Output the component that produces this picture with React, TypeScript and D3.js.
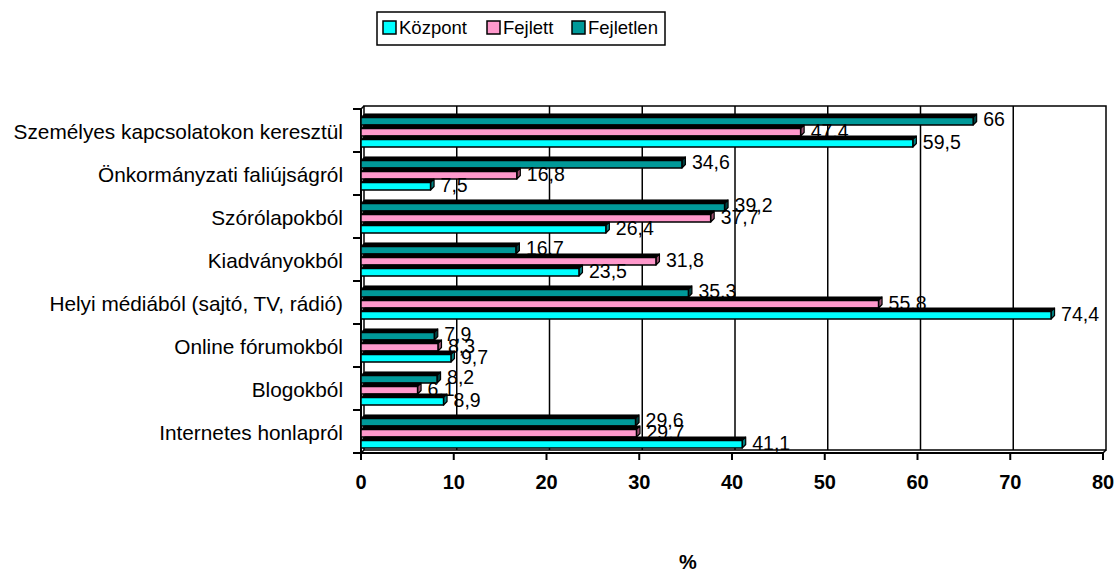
import { useEffect, useRef } from 'react'
import * as d3 from 'd3'

// Categories, top to bottom
const categories = [
  'Személyes kapcsolatokon keresztül',
  'Önkormányzati faliújságról',
  'Szórólapokból',
  'Kiadványokból',
  'Helyi médiából (sajtó, TV, rádió)',
  'Online fórumokból',
  'Blogokból',
  'Internetes honlapról',
]

const seriesNames = ['Központ', 'Fejlett', 'Fejletlen']
const seriesColors = ['#00FFFF', '#FF99CC', '#009999']
const seriesSide = ['#008080', '#99506F', '#004040']

const kozpont = [59.5, 7.5, 26.4, 23.5, 74.4, 9.7, 8.9, 41.1]
const fejlett = [47.4, 16.8, 37.7, 31.8, 55.8, 8.3, 6.1, 29.7]
const fejletlen = [66, 34.6, 39.2, 16.7, 35.3, 7.9, 8.2, 29.6]
const seriesValues = [kozpont, fejlett, fejletlen]

const xTicks = [0, 10, 20, 30, 40, 50, 60, 70, 80]

const fmt = (v: number) => String(v).replace('.', ',')

export default function App() {
  const svgRef = useRef<SVGSVGElement>(null)
  const width = 1119
  const height = 574

  useEffect(() => {
    if (!svgRef.current) return
    const svg = d3.select(svgRef.current)
    svg.selectAll('*').remove()

    const font = '"Liberation Sans", Arial, sans-serif'
    const left = 361
    const right = 1103
    const top = 109
    const bottom = 453
    const depth = 3.5

    const x = d3.scaleLinear().domain([0, 80]).range([left, right])
    const y = d3.scaleBand<string>().domain(categories).range([top, bottom])
    // slots inside a band, top to bottom: Fejletlen, Fejlett, Központ
    const inner = d3.scaleBand<number>()
      .domain([2, 1, 0])
      .range([0, y.bandwidth()])
      .paddingOuter(0.45)
      .paddingInner(0)

    // back wall
    const wall = svg.append('g')
    wall.append('rect')
      .attr('x', left + 3).attr('y', top - 3)
      .attr('width', right - left).attr('height', bottom - top)
      .attr('fill', 'white').attr('stroke', 'black').attr('stroke-width', 1.5)
    wall.selectAll('line.grid')
      .data(xTicks.slice(1, -1))
      .join('line')
      .attr('x1', d => x(d) + 3).attr('x2', d => x(d) + 3)
      .attr('y1', top - 3).attr('y2', bottom - 3)
      .attr('stroke', 'black').attr('stroke-width', 1.5)
    wall.append('path')
      .attr('d', `M${left},${bottom}L${left + 3},${bottom - 3}M${left},${top}L${left + 3},${top - 3}M${right},${bottom}L${right + 3},${bottom - 3}`)
      .attr('stroke', 'black').attr('stroke-width', 1.5)

    // axes
    const axes = svg.append('g').attr('stroke', 'black').attr('stroke-width', 2)
    axes.append('line').attr('x1', left).attr('x2', left).attr('y1', top).attr('y2', bottom)
    axes.append('line').attr('x1', left).attr('x2', right).attr('y1', bottom).attr('y2', bottom)
    const catEdges = categories.map(c => y(c) as number).concat([bottom])
    axes.selectAll('line.ytick')
      .data(catEdges)
      .join('line')
      .attr('x1', left - 8).attr('x2', left)
      .attr('y1', d => d).attr('y2', d => d)
    axes.selectAll('line.xtick')
      .data(xTicks)
      .join('line')
      .attr('x1', d => x(d)).attr('x2', d => x(d))
      .attr('y1', bottom).attr('y2', bottom + 7)

    svg.append('g')
      .selectAll('text')
      .data(xTicks)
      .join('text')
      .attr('x', d => x(d))
      .attr('y', 489)
      .attr('text-anchor', 'middle')
      .style('font', `bold 20px ${font}`)
      .text(d => d)

    svg.append('g')
      .selectAll('text')
      .data(categories)
      .join('text')
      .attr('x', 343)
      .attr('y', d => (y(d) as number) + y.bandwidth() / 2 + 8)
      .attr('text-anchor', 'end')
      .style('font', `20.8px ${font}`)
      .text(d => d)

    svg.append('text')
      .attr('x', 688).attr('y', 569)
      .attr('text-anchor', 'middle')
      .style('font', `bold 20px ${font}`)
      .text('%')

    // bars: categories top to bottom, inside each Fejletlen → Fejlett → Központ
    const bars = svg.append('g')
    const p = inner.bandwidth()
    categories.forEach((cat, ci) => {
      for (const s of [2, 1, 0]) {
        const v = seriesValues[s][ci]
        const s0 = (y(cat) as number) + (inner(s) as number)
        const x0 = left
        const x1 = x(v)
        const g = bars.append('g').attr('stroke', 'black').attr('stroke-linejoin', 'round')
        // top face
        g.append('path')
          .attr('d', `M${x0},${s0 + depth}L${x0 + depth},${s0}L${x1 + depth},${s0}L${x1},${s0 + depth}Z`)
          .attr('fill', '#000').attr('stroke-width', 1)
        // end face
        g.append('path')
          .attr('d', `M${x1},${s0 + depth}L${x1 + depth},${s0}L${x1 + depth},${s0 + p - depth}L${x1},${s0 + p}Z`)
          .attr('fill', seriesSide[s]).attr('stroke-width', 1.2)
        // front face
        g.append('rect')
          .attr('x', x0).attr('y', s0 + depth)
          .attr('width', x1 - x0).attr('height', p - depth)
          .attr('fill', seriesColors[s]).attr('stroke-width', 1.5)
        bars.append('text')
          .attr('x', x1 + 10)
          .attr('y', s0 + p / 2 + 7)
          .style('font', `19.5px ${font}`)
          .text(fmt(v))
      }
    })

    // legend
    const legend = svg.append('g')
    legend.append('rect')
      .attr('x', 377).attr('y', 12).attr('width', 288).attr('height', 33)
      .attr('fill', 'white').attr('stroke', 'black').attr('stroke-width', 1.5)
    const legendX = [383, 487, 572]
    seriesNames.forEach((name, i) => {
      legend.append('rect')
        .attr('x', legendX[i]).attr('y', 21).attr('width', 13).attr('height', 13)
        .attr('fill', seriesColors[i]).attr('stroke', 'black').attr('stroke-width', 1.5)
      legend.append('text')
        .attr('x', legendX[i] + 16).attr('y', 34)
        .style('font', `18.5px ${font}`)
        .text(name)
    })
  }, [])

  return (
    <svg
      ref={svgRef}
      width={width}
      height={height}
      style={{ position: 'absolute', left: 0, top: 0, background: 'white' }}
    />
  )
}
